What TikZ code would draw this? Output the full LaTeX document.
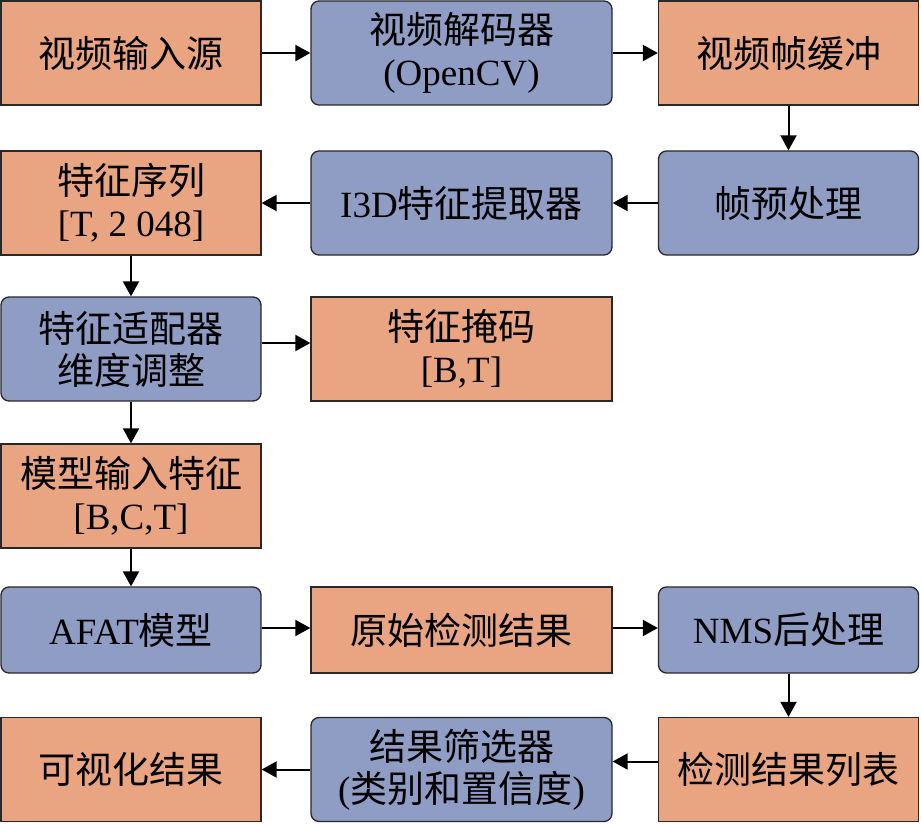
\documentclass[tikz,border=0pt]{standalone}
\usepackage{fontspec}
\setmainfont{Liberation Serif}
\newfontfamily\cjk{Noto Sans CJK SC}
\usetikzlibrary{arrows.meta}
\definecolor{orng}{RGB}{233,164,130}
\definecolor{blu}{RGB}{143,157,196}
\definecolor{edge}{RGB}{40,40,40}
\tikzset{
  obox/.style={draw=edge, line width=1.3pt, fill=orng, rectangle, minimum width=260pt,
    minimum height=104pt, align=center, inner sep=0pt, font=\fontsize{37}{42}\selectfont},
  bbox/.style={obox, fill=blu, rounded corners=8pt},
  wide/.style={minimum width=301pt},
  short/.style={minimum height=86pt},
  arr/.style={-{Triangle[length=15pt,width=16pt]}, line width=2pt, black}
}
\begin{document}
\begin{tikzpicture}[x=1pt,y=-1pt]
\useasboundingbox (0,0) rectangle (921,824);
% row 1
\node[obox] (src) at (131,53) {\cjk 视频输入源};
\node[bbox,wide] (dec) at (461.5,53) {{\cjk 视频解码器}\\(OpenCV)};
\node[obox] (buf) at (788.5,53) {\cjk 视频帧缓冲};
% row 2
\node[obox] (seq) at (131,203) {{\cjk 特征序列}\\{}[T, 2 048]};
\node[bbox,wide] (i3d) at (461.5,203) {I3D{\cjk 特征提取器}};
\node[bbox] (pre) at (788.5,203) {\cjk 帧预处理};
% row 3
\node[bbox] (adp) at (131,349) {{\cjk 特征适配器}\\{\cjk 维度调整}};
\node[obox,wide] (mask) at (461.5,349) {{\cjk 特征掩码}\\{}[B,T]};
% row 4
\node[obox] (min) at (131,496) {{\cjk 模型输入特征}\\{}[B,C,T]};
% row 5
\node[bbox,short] (afat) at (131,630) {AFAT{\cjk 模型}};
\node[obox,wide,short] (raw) at (461.5,630) {\cjk 原始检测结果};
\node[bbox,short] (nms) at (788.5,630) {NMS{\cjk 后处理}};
% row 6
\node[obox] (vis) at (131,769.5) {\cjk 可视化结果};
\node[bbox,wide] (flt) at (461.5,769.5) {{\cjk 结果筛选器}\\({\cjk 类别和置信度})};
\node[obox] (lst) at (788.5,769.5) {\cjk 检测结果列表};
% connectors
\draw[arr] (src) -- (dec);
\draw[arr] (dec) -- (buf);
\draw[arr] (buf) -- (pre);
\draw[arr] (pre) -- (i3d);
\draw[arr] (i3d) -- (seq);
\draw[arr] (seq) -- (adp);
\draw[arr] ([yshift=6pt]adp.east) -- ([yshift=6pt]mask.west);
\draw[arr] (adp) -- (min);
\draw[arr] (min) -- (afat);
\draw[arr] ([yshift=2pt]afat.east) -- ([yshift=2pt]raw.west);
\draw[arr] ([yshift=2pt]raw.east) -- ([yshift=2pt]nms.west);
\draw[arr] (nms) -- (lst);
\draw[arr] ([yshift=8pt]lst.west) -- ([yshift=8pt]flt.east);
\draw[arr] (flt) -- (vis);
\end{tikzpicture}
\end{document}
